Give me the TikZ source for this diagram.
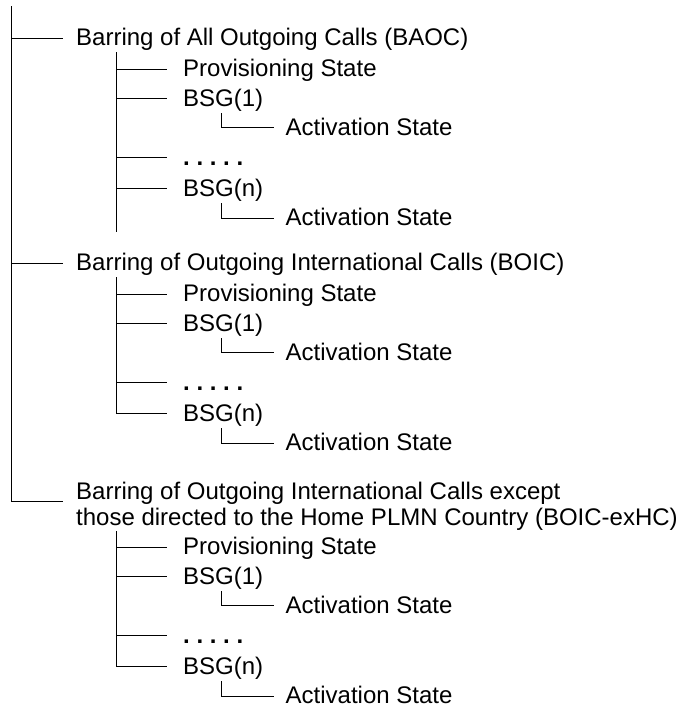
\documentclass[tikz,border=0pt]{standalone}
\usepackage{fontspec}
\setmainfont{Liberation Sans}
\begin{document}
\begin{tikzpicture}[x=1pt,y=-1pt,
  tree/.style={line width=1pt,line cap=rect,line join=miter,black},
  lbl/.style={anchor=base west,inner sep=0pt,font=\fontsize{24}{26}\selectfont}]
\useasboundingbox (0,0) rectangle (680,709);
% main trunk
\coordinate (trunkTop) at (11,6.7);
\coordinate (b1) at (11,38.5);   \coordinate (b1e) at (62,38.5);
\coordinate (b2) at (11,263.3);  \coordinate (b2e) at (62,263.3);
\coordinate (b3) at (11,501.7);  \coordinate (b3e) at (62,501.7);
\draw[tree] (trunkTop) -- (b3) -- (b3e);
\draw[tree] (b1) -- (b1e);
\draw[tree] (b2) -- (b2e);
\node[lbl] (h1) at (76,46) {Barring of All Outgoing Calls (BAOC)};
\node[lbl] (h2) at (76,270.8) {Barring of Outgoing International Calls (BOIC)};
\node[lbl] (h3) at (76,499.5) {Barring of Outgoing International Calls except};
\node[lbl] (h3b) at (76,525) {those directed to the Home PLMN Country (BOIC-exHC)};
% sub trees
\foreach \g/\o/\e/\t in {1/0/231/52.3, 2/225/413.5/277.3, 3/478/666.5/531.7}{
  \coordinate (s\g) at (116.7,\t);
  \coordinate (se\g) at (116.7,\e);
  \draw[tree] (s\g) -- (se\g);
  % provisioning
  \coordinate (pv\g) at (116.7,{69.2+\o}); \coordinate (pve\g) at (166,{69.2+\o});
  \draw[tree] (pv\g) -- (pve\g);
  \node[lbl] (pvt\g) at (183,{76.7+\o}) {Provisioning State};
  % BSG(1)
  \coordinate (ba\g) at (116.7,{98.7+\o}); \coordinate (bae\g) at (166,{98.7+\o});
  \draw[tree] (ba\g) -- (bae\g);
  \node[lbl] (bat\g) at (183,{106.2+\o}) {BSG(1)};
  \coordinate (aa\g) at (221.7,{113.7+\o}); \coordinate (aac\g) at (221.7,{127.7+\o});
  \coordinate (aae\g) at (273.3,{127.7+\o});
  \draw[tree] (aa\g) -- (aac\g) -- (aae\g);
  \node[lbl] (aat\g) at (285.5,{135.2+\o}) {Activation State};
  % dots
  \coordinate (dv\g) at (116.7,{157.5+\o}); \coordinate (dve\g) at (166,{157.5+\o});
  \draw[tree] (dv\g) -- (dve\g);
  \node[lbl] (dvt\g) at (183,{165.5+\o}) {\frenchspacing\bfseries . . . . .};
  % BSG(n)
  \coordinate (bn\g) at (116.7,{188.5+\o}); \coordinate (bne\g) at (166,{188.5+\o});
  \draw[tree] (bn\g) -- (bne\g);
  \node[lbl] (bnt\g) at (183,{196+\o}) {BSG(n)};
  \coordinate (an\g) at (221.7,{203.5+\o}); \coordinate (anc\g) at (221.7,{218.3+\o});
  \coordinate (ane\g) at (273.3,{218.3+\o});
  \draw[tree] (an\g) -- (anc\g) -- (ane\g);
  \node[lbl] (ant\g) at (285.5,{225.8+\o}) {Activation State};
}
\end{tikzpicture}
\end{document}
